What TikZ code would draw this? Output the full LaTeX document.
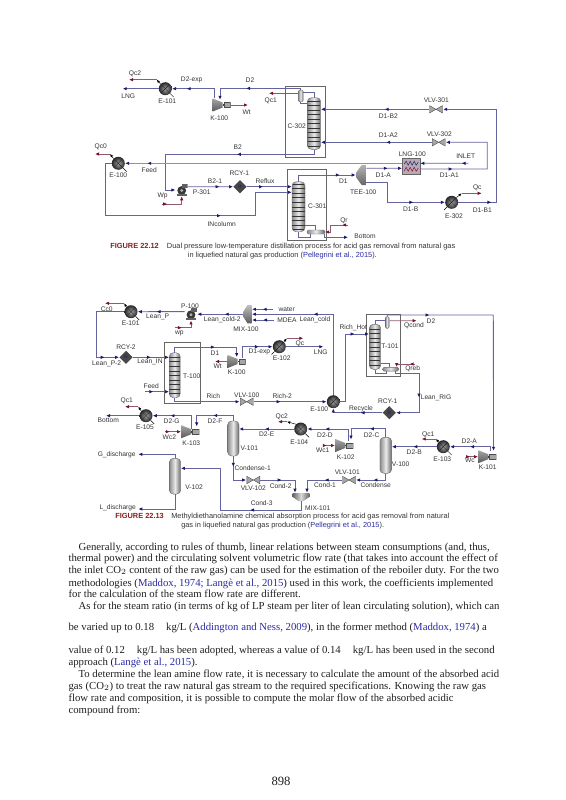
\documentclass[tikz,border=0pt]{standalone}
\usepackage{fontspec}
\setmainfont{Liberation Sans}
\newfontfamily\bodyfont{Liberation Serif}
\usetikzlibrary{arrows.meta,calc,shapes.geometric,decorations.markings}
\definecolor{Flow}{HTML}{65639E}
\definecolor{FlowPale}{HTML}{8F8DBB}
\definecolor{Tip}{HTML}{1C1A6E}
\definecolor{Duty}{HTML}{8E5A74}
\definecolor{DutyTip}{HTML}{7A1030}
\definecolor{Plate}{HTML}{B9A9B4}
\definecolor{Cite}{HTML}{2A2AA6}
\definecolor{FigRed}{HTML}{8A1C1C}
\definecolor{Ink}{HTML}{333333}
\tikzset{
  lab/.style={font=\fontsize{5}{6}\selectfont,text=Ink,inner sep=0pt},
  pipe/.style={draw=Flow,line width=0.65pt},
  flowtip/.style={pipe,-{Latex[length=3pt,width=2.6pt,color=Tip]}},
  flow/.style={flowtip,postaction={decorate,decoration={markings,mark=at position #1 with {\arrow{Latex[length=3pt,width=2.6pt,color=Tip]}}}}},
  flow/.default=0.5,
  dutytip/.style={draw=Duty,line width=0.6pt,-{Latex[length=3pt,width=2.6pt,color=DutyTip]}},
  duty/.style={dutytip,postaction={decorate,decoration={markings,mark=at position #1 with {\arrow{Latex[length=3pt,width=2.6pt,color=DutyTip]}}}}},
  duty/.default=0.5,
  sig/.style={draw=black,line width=0.35pt,-{Latex[length=2.4pt,width=2pt]}},
  tail/.style={draw=black,line width=0.35pt},
  unitbox/.style={draw=black!60,line width=0.4pt},
  heater/.style={circle,minimum size=9.75pt,inner sep=0pt,inner color=black!35,outer color=black!85,
    path picture={\draw[black!85,line width=0.3pt] (path picture bounding box.north west) -- (path picture bounding box.south east)
      (path picture bounding box.north east) -- (path picture bounding box.south west);}},
  vessel/.style 2 args={minimum width=#1*0.75pt,minimum height=#2*0.75pt,inner sep=0pt,rounded corners=3pt,draw=black!60,line width=0.3pt,
    left color=black!45,right color=black!60,middle color=black!8},
  tower/.style n args={3}{vessel={#1}{#2},
    path picture={\foreach \tr in {-#3,...,#3} \draw[black!80,line width=0.25pt] ([yshift=\tr*3.4pt]path picture bounding box.west) -- ([yshift=\tr*3.4pt]path picture bounding box.east);}},
  valve/.style={minimum width=10.3pt,minimum height=6pt,inner sep=0pt,
    path picture={\begin{scope}[shift={(path picture bounding box.center)}]
      \draw[black!70,fill=black!35,line width=0.3pt] (-6.5,-3.7) -- (6.5,3.7) -- (6.5,-3.7) -- (-6.5,3.7) -- cycle;
    \end{scope}}},
  comp/.style={minimum width=13.5pt,minimum height=10pt,inner sep=0pt,
    path picture={\begin{scope}[shift={(path picture bounding box.center)},xscale=#1]
      \shade[top color=black!35,bottom color=black!65] (-9,-6.5) -- (1,-2.5) -- (1,2.5) -- (-9,6.5) -- cycle;
      \fill[black!75] (1,-0.8) rectangle (2.3,0.8);
      \draw[black!70,fill=black!35,line width=0.3pt] (2.3,-2.5) rectangle (8.8,2.5);
    \end{scope}}},
  pump/.style={minimum size=9pt,inner sep=0pt,
    path picture={\begin{scope}[shift={(path picture bounding box.center)},xscale=#1]
      \fill[black!78] (0,0.5) circle (4.4);
      \fill[black!30] (0,0.5) circle (1.6);
      \fill[black!62] (0,-5.8) rectangle (5.8,-2);
      \fill[black!62] (-5,4) rectangle (5,5.8);
    \end{scope}}},
  rcy/.style={diamond,aspect=1,minimum width=10pt,minimum height=10pt,inner sep=0pt,fill=black!72,text=Tip,font=\fontsize{3.5}{4}\selectfont},
  lngx/.style={draw=black!60,line width=0.3pt,fill=Plate,minimum width=13.3pt,minimum height=11.8pt,inner sep=0pt,
    path picture={\begin{scope}[shift={(path picture bounding box.center)}]
      \draw[Tip,line width=0.35pt] (-7,-2) -- (-5,-5) -- (-3,-1) -- (-1,-5) -- (1,-1) -- (3,-5) -- (5,-1) -- (7,-4);
      \draw[DutyTip,line width=0.35pt] (-7,5) -- (-5,1) -- (-3,5) -- (-1,1) -- (1,5) -- (3,1) -- (5,5) -- (7,2);
    \end{scope}}},
  teex/.style={minimum width=7.5pt,minimum height=15pt,inner sep=0pt,
    path picture={\begin{scope}[shift={(path picture bounding box.center)}]
      \shade[top color=black!30,bottom color=black!60] (-5,-2.3) -- (0.7,-10) -- (5,-10) -- (5,10) -- (0.7,10) -- (-5,2.3) -- cycle;
    \end{scope}}},
  mixleft/.style={minimum width=6.3pt,minimum height=13.8pt,inner sep=0pt,
    path picture={\begin{scope}[shift={(path picture bounding box.center)}]
      \shade[top color=black!25,bottom color=black!65] (4.2,-9.2) -- (4.2,9.2) -- (0,9.2) -- (-4.2,2.5) -- (-4.2,-2.5) -- (0,-9.2) -- cycle;
    \end{scope}}},
  mixdown/.style={minimum width=12.5pt,minimum height=6pt,inner sep=0pt,
    path picture={\begin{scope}[shift={(path picture bounding box.center)}]
      \shade[left color=black!60,right color=black!60,middle color=black!15] (-8.3,-4) -- (8.3,-4) -- (8.3,0) -- (2.5,4) -- (-2.5,4) -- (-8.3,0) -- cycle;
    \end{scope}}},
  capline/.style={anchor=west,font=\fontsize{5.55}{7}\selectfont,text=Ink,inner sep=0pt,text height=4.2pt,text depth=1.2pt},
  bodyline/.style={anchor=west,font=\bodyfont\fontsize{8.05}{10}\selectfont,text=black!88,inner sep=0pt,text height=5.6pt,text depth=1.8pt}
}
\begin{document}
\begin{tikzpicture}[x=0.75pt,y=-0.75pt]
\path[use as bounding box] (0,0) rectangle (565,800);

% dual pressure units
\draw[unitbox] (285,86.7) rectangle (325,157.3);
\draw[unitbox] (287.3,169.3) rectangle (326.7,240);
\node[heater] (E101) at (165.3,88.7) {};
\node[heater] (E100) at (118.3,163.3) {};
\node[heater] (E302) at (451.7,202.3) {};
\node[comp=1] (K100) at (221.7,105) {};
\node[pump=1] (P301) at (181.7,190) {};
\node[rcy] (RCY1) at (240,186.7) {R};
\node[tower={13.4}{51.6}{5}] (C302) at (314,123.5) {};
\node[tower={13}{50}{5}] (C301) at (298.5,206.7) {};
\node[vessel={5}{11.7},rounded corners=1pt] (Cond302) at (300.7,95.9) {};
\node[vessel={18}{4},rounded corners=1pt] (Reb301) at (316,232) {};
\node[teex] (TEE100) at (361,175) {};
\node[valve] (VLV301) at (436,109.3) {};
\node[valve] (VLV302) at (438.7,142.3) {};
\node[lngx] (LNG100) at (411.2,166.2) {};

% free ends and corners
\coordinate (LNGout) at (122.7,88.7);
\coordinate (Qc1out) at (269,93.3);
\coordinate (Qc2mid) at (156.7,79.7);
\coordinate (Qc2out) at (129,79.7);
\coordinate (Qc0mid) at (110,154);
\coordinate (Qc0out) at (95,154);
\coordinate (Qcmid) at (461.7,193.3);
\coordinate (Qcout) at (481.7,193.3);
\coordinate (Qrin) at (348,225);
\coordinate (Wpin) at (161.7,204);
\coordinate (Wtout) at (248,105);
\coordinate (INLETin) at (468.3,163.3);
\coordinate (B2turn) at (165,154.3);
\coordinate (INa) at (105,215.7);
\coordinate (INb) at (255,192.3);
\coordinate (D1Aturn) at (487.3,169);
\coordinate (D1Bturn) at (496,109.3);
\coordinate (D1Ba) at (387.7,202.3);
\coordinate (BottomOut) at (348,237.3);
\coordinate (FeedOut) at ($(LNG100.west)+(0,-2.9)$);

% streams
\draw[flow=.72] ($(K100.north west)+(2.3,0)$) |- (E101.east);
\draw[flowtip] (E101.west) -- (LNGout);
\draw[flow=.6] (Cond302.north) -- ++(0,-1.5) -| ($(K100.north)+(-1.7,1.7)$);
\draw[flow=.41] (VLV301.west) -- (VLV301.west -| C302.east);
\draw[flow=.41] (VLV302.west) -- (VLV302.west -| C302.east);
\draw[flow=.18] (E302.east) -| (D1Bturn) -- (VLV301.east);
\draw[flow=.24] ($(LNG100.east)+(0,2.8)$) -- (D1Aturn) |- (VLV302.east);
\draw[flow=.41] (C302.south) |- (B2turn) |- (P301.west);
\draw[pipe] (C302.north) |- ($(Cond302.east)+(0,-3.5)$);
\draw[pipe] (Cond302.south) |- ($(C302.west)+(0,-20.2)$);
\draw[flow=.92,draw=FlowPale,line width=0.9pt] (FeedOut) -- (FeedOut -| E100.east);
\draw[flow=.14] (INLETin) -- ($(LNG100.east)+(0,-2.9)$);
\draw[flow=.65] (E100.west) -| (INa) -| (INb) -- (INb -| C301.west);
\draw[flow=.36] (RCY1.east) -- (RCY1.east -| C301.west);
\draw[flow=.7] ($(P301.east)+(0,-3.3)$) -- (RCY1.west);
\draw[flow=.75] (C301.north) |- (TEE100.west);
\draw[flow=.6] ($(TEE100.east)+(0,-6.7)$) -- ($(LNG100.west)+(0,2.1)$);
\draw[flow=.68] ($(TEE100.east)+(0,7.7)$) -| (D1Ba) -- (E302.west);
\draw[pipe] ($(C301.east)+(0,18.3)$) -| ($(Reb301.north)+(-1,0)$);
\draw[pipe] ($(Reb301.south)+(-6,0)$) -- ++(0,3.3) -| (C301.south);
\draw[flowtip] ($(Reb301.south)+(8,0)$) |- (BottomOut);

% energy streams
\draw[dutytip] ($(Cond302.west)+(0,-2.6)$) -- (Qc1out);
\draw[sig] (E101.north west) -- (Qc2mid);
\draw[dutytip] (Qc2mid) -- (Qc2out);
\draw[sig] (E100.north west) -- (Qc0mid);
\draw[dutytip] (Qc0mid) -- (Qc0out);
\draw[sig] (E302.north east) -- (Qcmid);
\draw[dutytip] (Qcmid) -- (Qcout);
\draw[duty=.2] (Qrin) -- (330,225) |- (Reb301.east);
\draw[duty=.2] (Wpin) -| (P301.south);
\draw[dutytip] (K100.east) -- (Wtout);

% labels
\foreach \nm/\x/\y/\txt in {lQc2/135/73.7/Qc2,lDexp/191.7/80.3/D2-exp,lD2/250/80.3/D2,lLNG/128.3/96.7/LNG,
  lE101/167.3/101.3/E-101,lQc1/270.7/100.7/Qc1,lWt/246.7/112.3/Wt,lK100/219.3/118/K-100,lCb/296.7/126.7/C-302,
  lDBb/388.3/116.3/D1-B2,lDAb/388.3/135/D1-A2,lV301/436.3/100.7/VLV-301,lV302/439.3/134/VLV-302,
  lQc0/100.7/146.7/Qc0,lB2/237.7/147.3/B2,lLNGx/412.3/154.3/LNG-100,lIN/465.7/156/INLET,
  lFeed/149.3/170/Feed,lE100/118.3/175.3/E-100,lRCY/239.3/173.7/RCY-1,lBone/215/181/B2-1,lReflux/265/180.7/Reflux,
  lP301/201.7/192.3/P-301,lWp/162.7/195.7/Wp,lINc/221.7/223.7/INcolumn,lD1/343.3/181.3/D1,lTEE/363.3/192.3/TEE-100,
  lDA/383.3/175.7/D1-A,lDAa/449.3/175.7/D1-A1,lQc/477.3/188/Qc,lDB/410.7/209.3/D1-B,lDBa/482.3/210/D1-B1,
  lE302/454/216.3/E-302,lCa/317.3/206/C-301,lQr/344/220.3/Qr,lBot/365/236.7/Bottom}
  \node[lab] (\nm) at (\x,\y) {\txt};

\node[capline,font=\fontsize{5.55}{7}\selectfont\bfseries,text=FigRed] (capA) at (110,246) {FIGURE 22.12};
\node[capline] (capAa) at (166.7,246) {Dual pressure low-temperature distillation process for acid gas removal from natural gas};
\node[capline] (capAb) at (187.7,255) {in liquefied natural gas production (\textcolor{Cite}{Pellegrini et al., 2015}).};

% amine absorption units
\draw[unitbox] (164.3,342.3) rectangle (200,403.3);
\draw[unitbox] (366,314.3) rectangle (400.7,376);
\node[heater] (E101b) at (131,311.7) {};
\node[heater] (E102) at (279.3,346.7) {};
\node[heater] (E100b) at (333.3,401.7) {};
\node[heater] (E105) at (146,415.7) {};
\node[heater] (E104) at (300.7,429) {};
\node[heater] (E103) at (443.3,446.7) {};
\node[pump=-1] (P100) at (191,314.2) {};
\node[mixleft] (MIX100) at (247.5,314.2) {};
\node[mixdown] (MIX101) at (301,497) {};
\node[rcy] (RCY2) at (126,357.3) {R};
\node[rcy] (RCY1b) at (389.3,412.7) {R};
\node[comp=-1] (K100b) at (236.7,361.5) {};
\node[comp=-1] (K103) at (190.3,431.7) {};
\node[comp=-1] (K102) at (344.3,445.5) {};
\node[comp=-1] (K101) at (487.3,456.7) {};
\node[tower={11}{45}{4}] (T100) at (174.7,375.2) {};
\node[tower={11.4}{45}{4}] (T101) at (375,346.8) {};
\node[vessel={3.7}{11.7},rounded corners=1pt] (Cond101) at (387.2,322.5) {};
\node[vessel={16}{3.7},rounded corners=1pt] (Reb101) at (390.7,369.2) {};
\node[vessel={11.4}{35}] (V101) at (233.3,438.5) {};
\node[vessel={11.4}{35.7}] (V102) at (175,476.2) {};
\node[vessel={11.7}{36}] (V100) at (385.8,455.3) {};
\node[valve] (VLV100) at (246.7,401.7) {};
\node[valve] (VLV101) at (349,480) {};
\node[valve] (VLV102) at (253.3,480) {};
\foreach \nm/\x/\y/\txt in {water/286.7/309.3/water,MDEA/287/320/MDEA}
  \node[lab] (\nm) at (\x,\y) {\txt};

% free ends and corners
\coordinate (LP2a) at (96.7,357.3);
\coordinate (Feedb) at (145,391.7);
\coordinate (LNGb) at (323.3,346.7);
\coordinate (Wtb) at (215,361.5);
\coordinate (wpin) at (175,327.7);
\coordinate (RHa) at (345,334);
\coordinate (LRa) at (419,412.7);
\coordinate (D2turn) at (493.3,315);
\coordinate (Qcondout) at (416.7,320.7);
\coordinate (Qrebin) at (415,364);
\coordinate (Bottomb) at (106,415.7);
\coordinate (C3a) at (220,510);
\coordinate (Gout) at (138.3,454.3);
\coordinate (Lout) at (138.3,509);
\coordinate (Cc0mid) at (124.3,303.3);
\coordinate (Cc0out) at (105,303.3);
\coordinate (Qcbmid) at (286.7,338.3);
\coordinate (Qcbout) at (303.3,338.3);
\coordinate (Qceemid) at (138.3,406.7);
\coordinate (Qceeout) at (125,406.7);
\coordinate (Qcdmid) at (287,421.7);
\coordinate (Qcdout) at (278,421.7);
\coordinate (Qccmid) at (436,439);
\coordinate (Qccout) at (421.7,439);
\coordinate (Wc2in) at (165,431.7);
\coordinate (Wc1in) at (323.3,445.5);
\coordinate (Wcin) at (466.7,456.7);

% streams
\draw[flow=.6] ($(P100.west)+(0,-2.6)$) -- (E101b.east);
\draw[flow=.85] (E101b.west) -| (LP2a) -- (RCY2.west);
\draw[flow=.5] (RCY2.east) -- (RCY2.east -| T100.west);
\draw[flow=.35] (Feedb) -- (Feedb -| T100.west);
\draw[flow=.4] (MIX100.west) -- (P100.east);
\draw[flow=.62] (E100b.north) |- (MIX100.east);
\draw[flow=.5] ($(water.west)+(-5,0)$) -- (water -| MIX100.east);
\draw[flow=.5] ($(MDEA.west)+(-3,0)$) -- (MDEA -| MIX100.east);
\draw[flow=.59] (T100.north) -- ++(0,-5.4) -| ($(K100b.north)+(0,2.5)$);
\draw[flow=.67] ($(K100b.north)+(5.6,3)$) |- (E102.west);
\draw[flowtip] (E102.east) -- (LNGb);
\draw[flowtip] (T100.south) |- (VLV100.west);
\draw[flow=.37] (VLV100.east) -- (E100b.west);
\draw[flow=.85] (E100b.east) -| (RHa) -- (RHa -| T101.west);
\draw[pipe] (T101.north) |- ($(Cond101.west)+(0,-1.8)$);
\draw[flow=.18] (Cond101.north) |- (D2turn) -- ($(K101.north east)+(-3,1)$);
\draw[pipe] ($(T101.east)+(0,16.5)$) -| ($(Reb101.north)+(-1.4,0)$);
\draw[pipe] ($(Reb101.south)+(-4.7,0)$) -- ++(0,2.3) -| (T101.south);
\draw[flow=.57] ($(Reb101.south)+(4.3,0)$) -- ++(0,2.3) -| (LRa) -- (RCY1b.east);
\draw[flow=.41] (RCY1b.west) -| (E100b.south);
\draw[flowtip] (E105.west) -- (Bottomb);
\draw[flow=.66] ($(K103.north)+(1.4,4)$) |- (E105.east);
\draw[flow=.48] (V101.north) -- ++(0,-5.3) -| ($(K103.north)+(6.4,1.7)$);
\draw[flow=.53] (E104.west) -- (E104.west -| V101.east);
\draw[flow=.66] ($(K102.north)+(3.7,2.2)$) |- (E104.east);
\draw[flow=.45] (V100.north) -- ++(0,-8.3) -| ($(K102.north)+(6.7,1)$);
\draw[flow=.52] (E103.west) -- (E103.west -| V100.east);
\draw[flow=.55] ($(K101.north)+(2.7,1.5)$) |- (E103.east);
\draw[flow=.52] (V100.south) |- (VLV101.east);
\draw[flow=.36] (VLV101.west) -| ($(MIX101.north)+(6,0)$);
\draw[flow=.45] (VLV102.east) -| ($(MIX101.north)+(-6,0)$);
\draw[flow=.29] (V101.south) |- (VLV102.west);
\draw[flow=.35] (MIX101.south) |- (C3a) |- ($(V102.east)+(0,-7.9)$);
\draw[flowtip] (V102.north) |- (Gout);
\draw[flowtip] (V102.south) |- (Lout);

% energy streams
\draw[sig] (E101b.north west) -- (Cc0mid);
\draw[dutytip] (Cc0mid) -- (Cc0out);
\draw[sig] (E102.north east) -- (Qcbmid);
\draw[dutytip] (Qcbmid) -- (Qcbout);
\draw[sig] (E105.north west) -- (Qceemid);
\draw[dutytip] (Qceemid) -- (Qceeout);
\draw[sig] (E104.north west) -- (Qcdmid);
\draw[dutytip] (Qcdmid) -- (Qcdout);
\draw[sig] (E103.north west) -- (Qccmid);
\draw[dutytip] (Qccmid) -- (Qccout);
\draw[duty=.3] (wpin) -| (P100.south);
\draw[dutytip] (K100b.west) -- (Wtb);
\draw[dutytip] ($(Cond101.east)+(0,-1.8)$) -- (Qcondout);
\draw[duty=.25] (Qrebin) -| ($(Reb101.north)+(6,0)$);
\draw[duty=.3] (Wc2in) -- (K103.west);
\draw[duty=.3] (Wc1in) -- (K102.west);
\draw[duty=.3] (Wcin) -- (K101.west);

% heater tails
\foreach \hx in {E101,E100,E101b,E105,E104,E103}
  \draw[tail] (\hx.south east) -- ++(3.5,3.5);
\foreach \hx in {E302,E102}
  \draw[tail] (\hx.south west) -- ++(-3,3);

% labels
\foreach \nm/\x/\y/\txt in {mCc/106.7/309.3/Cc0,mPh/190/306/P-100,mLP/157.7/316.7/Lean\_P,mEb/130.7/323.3/E-101,
  mLc/222.3/319.3/Lean\_cold-2,mLcc/315/319.3/Lean\_cold,mMIX/246/329.3/MIX-100,mwp/179.3/333.3/wp,mQc/300/343.3/Qc,
  mRC/126/347.3/RCY-2,mD/215/353.3/D1,mDe/259.3/351.7/D1-exp,mEc/281.7/357.7/E-102,mLNG/320.7/351.7/LNG,
  mRH/353.3/327.3/Rich\_Hot,mD2/431/320.7/D2,mQcd/414/325.3/Qcond,mT101/390/346/T-101,mQr/412.7/369/Qreb,
  mLPb/106.7/364.3/Lean\_P-2,mLIN/150/362.3/Lean\_IN,mWt/217.7/366/Wt,mK/236.7/372.3/K-100,mT/191.7/376.3/T-100,
  mFeed/151.3/386/Feed,mRich/213.3/396/Rich,mV/246.7/395.3/VLV-100,mRb/282.3/396/Rich-2,mLR/436/398.3/Lean\_RIG,
  mRY/387.7/401/RCY-1,mRec/361/408.3/Recycle,mEj/319.3/409/E-100,mQe/126.7/401/Qc1,mQd/281.7/416.7/Qc2,
  mBot/108.3/420.7/Bottom,mDG/171.7/420.7/D2-G,mDF/215/420.7/D2-F,mEe/145/426.7/E-105,mDE/266.7/434.3/D2-E,
  mDD/325/435/D2-D,mDC/371.7/435/D2-C,mQf/428.3/434.7/Qc1,mDA/469.3/440.7/D2-A,mEd/299.3/441.7/E-104,
  mWc/169.3/437.3/Wc2,mKc/191.3/443.3/K-103,mV1/249.3/447.7/V-101,mWa/322.7/450.7/Wc1,mDB/414.3/451.7/D2-B,
  mG/116.7/455/G\_discharge,mKb/345.7/456.7/K-102,mEf/442.3/459/E-103,mWd/470/460.7/Wc,mV0/400.7/463.7/V-100,
  mKa/487.7/466.7/K-101,mCo/252.7/467.7/Condense-1,mVb/347.3/472.3/VLV-101,mCnd/375.7/484.7/Condense,
  mCa/325/485/Cond-1,mCb/280.7/485.7/Cond-2,mVc/253.3/487.7/VLV-102,mV2/194/487.3/V-102,mCt/261.7/503.3/Cond-3,
  mL/117.7/507.3/L\_discharge,mMx/317.7/507.7/MIX-101}
  \node[lab] (\nm) at (\x,\y) {\txt};

\node[capline,font=\fontsize{5.55}{7}\selectfont\bfseries,text=FigRed] (capB) at (115,516.7) {FIGURE 22.13};
\node[capline] (capBa) at (171,516.7) {Methyldiethanolamine chemical absorption process for acid gas removal from natural};
\node[capline] (capBb) at (181,525) {gas in liquefied natural gas production (\textcolor{Cite}{Pellegrini et al., 2015}).};

% running text
\node[bodyline] (lineA) at (78.3,548.3) {Generally, according to rules of thumb, linear relations between steam consumptions (and, thus,};
\node[bodyline] (lineB) at (68.3,559.3) {thermal power) and the circulating solvent volumetric flow rate (that takes into account the effect of};
\node[bodyline] (lineC) at (68.3,570.7) {the inlet CO$_2$ content of the raw gas) can be used for the estimation of the reboiler duty. For the two};
\node[bodyline] (lineD) at (68.3,584) {methodologies (\textcolor{Cite}{Maddox, 1974; Langè et al., 2015}) used in this work, the coefficients implemented};
\node[bodyline] (lineE) at (68.3,595.3) {for the calculation of the steam flow rate are different.};
\node[bodyline] (lineF) at (78.3,606.7) {As for the steam ratio (in terms of kg of LP steam per liter of lean circulating solution), which can};
\node[bodyline] (lineG) at (68.3,627.7) {be varied up to 0.18\hspace{7pt} kg/L (\textcolor{Cite}{Addington and Ness, 2009}), in the former method (\textcolor{Cite}{Maddox, 1974}) a};
\node[bodyline] (lineH) at (68.3,650.7) {value of 0.12\hspace{7pt} kg/L has been adopted, whereas a value of 0.14\hspace{7pt} kg/L has been used in the second};
\node[bodyline] (lineI) at (68.3,663.3) {approach (\textcolor{Cite}{Langè et al., 2015}).};
\node[bodyline] (lineJ) at (78.3,675) {To determine the lean amine flow rate, it is necessary to calculate the amount of the absorbed acid};
\node[bodyline] (lineK) at (68.3,686.7) {gas (CO$_2$) to treat the raw natural gas stream to the required specifications. Knowing the raw gas};
\node[bodyline] (lineL) at (68.3,699.3) {flow rate and composition, it is possible to compute the molar flow of the absorbed acidic};
\node[bodyline] (lineM) at (68.3,711) {compound from:};
\node[bodyline,anchor=center,font=\bodyfont\fontsize{9.5}{11}\selectfont] (pageno) at (281,783) {898};
\end{tikzpicture}
\end{document}
